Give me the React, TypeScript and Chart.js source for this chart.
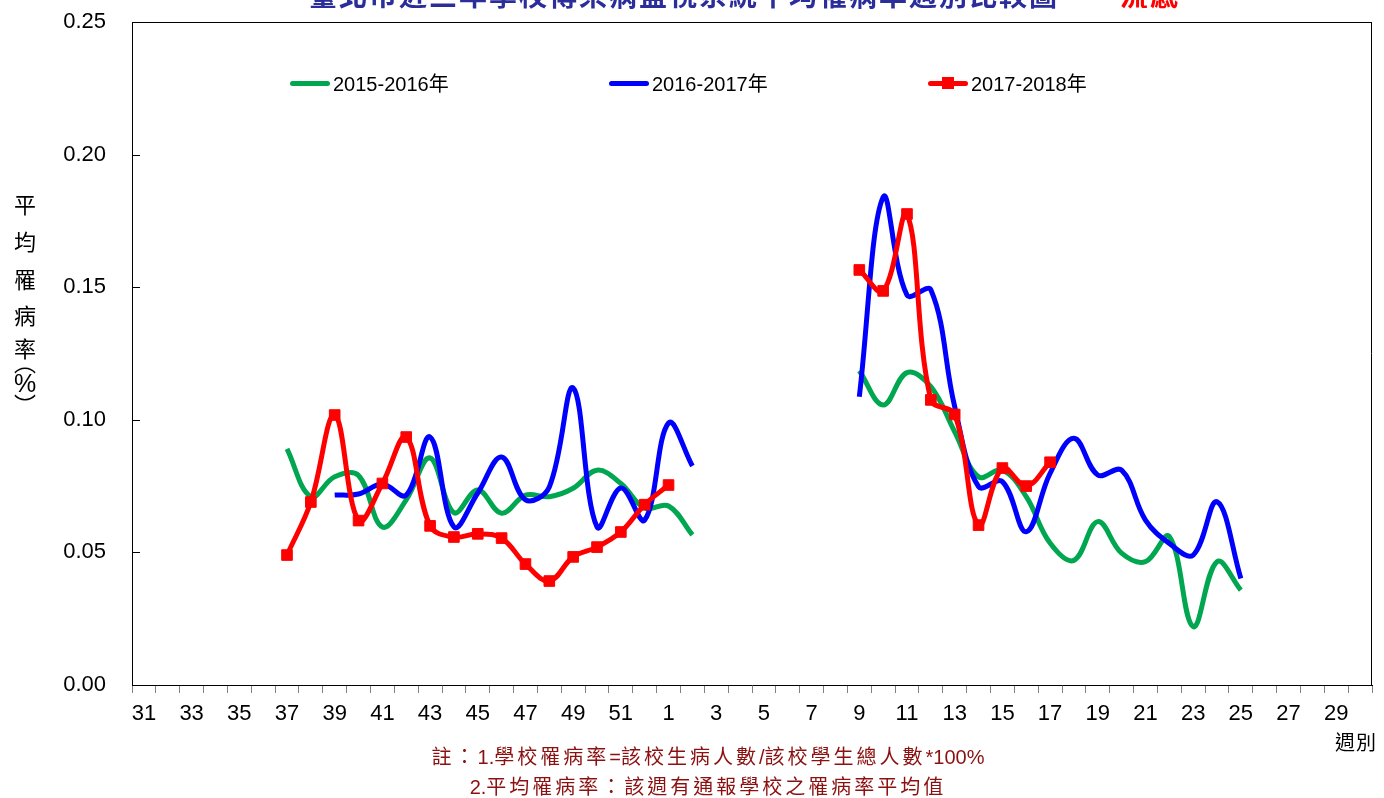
import React, { useEffect, useRef } from 'react';
import { Chart, registerables } from 'chart.js';
Chart.register(...registerables);

const weekLabels = [
  '31','32','33','34','35','36','37','38','39','40','41','42','43','44','45','46','47','48','49','50','51','52',
  '1','2','3','4','5','6','7','8','9','10','11','12','13','14','15','16','17','18','19','20','21','22','23','24','25','26','27','28','29','30',
];

const yTicks = [0, 0.05, 0.1, 0.15, 0.2, 0.25];

const s2015 = [
  null, null, null, null, null, null,
  0.089, 0.071, 0.0785, 0.079, 0.0596, 0.0698, 0.0856, 0.065, 0.0735, 0.0648, 0.0716, 0.071, 0.0742, 0.081, 0.076, 0.0667, 0.0675, 0.0566,
  null, null, null, null, null, null,
  0.1185, 0.1056, 0.1178, 0.1125, 0.0955, 0.0785, 0.081, 0.071, 0.0535, 0.047, 0.0616, 0.0497, 0.0465, 0.056, 0.022, 0.0465, 0.0358,
  null, null, null, null, null,
];

const s2016 = [
  null, null, null, null, null, null, null, null,
  0.0716, 0.072, 0.0758, 0.0716, 0.0935, 0.0596, 0.0724, 0.086, 0.0698, 0.0747, 0.112, 0.0596, 0.0743, 0.0622, 0.0988, 0.0826,
  null, null, null, null, null, null,
  0.1087, 0.184, 0.147, 0.149, 0.105, 0.0748, 0.0767, 0.0578, 0.0798, 0.093, 0.0792, 0.081, 0.0622, 0.0534, 0.049, 0.0691, 0.0402,
  null, null, null, null, null,
];

const s2017 = [
  null, null, null, null, null, null,
  0.049, 0.069, 0.1018, 0.062, 0.076, 0.0935, 0.06, 0.0558, 0.057, 0.0554, 0.0456, 0.0392, 0.0483, 0.052, 0.0577, 0.068, 0.0754,
  null, null, null, null, null, null, null,
  0.1565, 0.1486, 0.1776, 0.1075, 0.102, 0.0603, 0.0818, 0.075, 0.084,
  null, null, null, null, null, null, null, null, null, null, null, null, null,
];

const seriesNames = ['2015-2016年', '2016-2017年', '2017-2018年'];
const GREEN = '#00A650';
const BLUE = '#0000FF';
const RED = '#FF0000';

const NUM_FONT = '"Liberation Sans", Arial, sans-serif';
const CJK_FONT = '"Noto Sans CJK TC", "Noto Sans CJK SC", sans-serif';
const MIX_FONT = '"Liberation Sans", "Noto Sans CJK TC", sans-serif';

const framePlugin = {
  id: 'frame',
  beforeDraw(chart: any) {
    const ctx = chart.ctx;
    ctx.save();
    ctx.fillStyle = '#fff';
    ctx.fillRect(0, 0, chart.width, chart.height);
    ctx.restore();
  },
  afterDraw(chart: any) {
    const { ctx, chartArea } = chart;
    const y = chart.scales.y;
    ctx.save();
    ctx.strokeStyle = '#000';
    ctx.lineWidth = 1;
    ctx.beginPath();
    ctx.moveTo(chartArea.left, chartArea.top + 0.5);
    ctx.lineTo(chartArea.right, chartArea.top + 0.5);
    ctx.moveTo(chartArea.right - 0.5, chartArea.top);
    ctx.lineTo(chartArea.right - 0.5, chartArea.bottom);
    yTicks.forEach((v) => {
      const py = Math.round(y.getPixelForValue(v)) + 0.5;
      ctx.moveTo(chartArea.left, py);
      ctx.lineTo(chartArea.left + 8, py);
    });
    ctx.stroke();
    ctx.restore();
  },
};

export default function App() {
  const ref = useRef<HTMLCanvasElement | null>(null);

  useEffect(() => {
    if (!ref.current) return;
    const chart = new Chart(ref.current, {
      type: 'line',
      data: {
        labels: weekLabels,
        datasets: [
          {
            label: seriesNames[0],
            data: s2015,
            borderColor: GREEN,
            backgroundColor: GREEN,
            borderWidth: 5,
            pointRadius: 0,
            tension: 0.38,
            spanGaps: false,
            order: 3,
          },
          {
            label: seriesNames[1],
            data: s2016,
            borderColor: BLUE,
            backgroundColor: BLUE,
            borderWidth: 5,
            pointRadius: 0,
            tension: 0.38,
            spanGaps: false,
            order: 2,
          },
          {
            label: seriesNames[2],
            data: s2017,
            borderColor: RED,
            backgroundColor: RED,
            borderWidth: 5,
            pointStyle: 'rect',
            pointRadius: 7.5,
            pointBorderWidth: 1,
            pointBorderColor: RED,
            pointBackgroundColor: RED,
            tension: 0.38,
            spanGaps: false,
            order: 1,
          },
        ],
      },
      options: {
        responsive: false,
        animation: false,
        devicePixelRatio: 1,
        layout: { padding: { top: 22, right: 12, left: 0, bottom: 0 } },
        plugins: {
          legend: { display: false },
          tooltip: { enabled: false },
          title: { display: false },
        },
        scales: {
          x: {
            type: 'category',
            offset: true,
            afterFit: (s: any) => { s.height = 113; s.paddingLeft = 0; s.paddingRight = 0; },
            grid: {
              display: true,
              drawOnChartArea: false,
              drawTicks: true,
              tickLength: 8,
              offset: true,
              color: '#808080',
            },
            border: { display: true, color: '#000', width: 1 },
            ticks: {
              autoSkip: false,
              maxRotation: 0,
              minRotation: 0,
              padding: 8,
              color: '#000',
              font: { family: NUM_FONT, size: 22 },
              callback: (_v: any, i: number) => (i % 2 === 0 ? weekLabels[i] : ''),
            },
          },
          y: {
            min: 0,
            max: 0.25,
            afterFit: (s: any) => { s.width = 132; s.paddingTop = 0; s.paddingBottom = 0; },
            afterBuildTicks: (s: any) => { s.ticks = yTicks.map((v) => ({ value: v })); },
            grid: { display: false, drawTicks: false },
            border: { display: true, color: '#000', width: 1 },
            ticks: {
              padding: 26,
              color: '#000',
              font: { family: NUM_FONT, size: 22 },
              callback: (v: any) => Number(v).toFixed(2),
            },
          },
        },
      },
      plugins: [framePlugin],
    });
    return () => chart.destroy();
  }, []);

  const yTitle = ['平', '均', '罹', '病', '率'];
  const yTitleTops = [191, 228, 266, 302, 335];

  const legendItems = [
    { x: 290, color: GREEN, marker: false, text: seriesNames[0] },
    { x: 609, color: BLUE, marker: false, text: seriesNames[1] },
    { x: 928, color: RED, marker: true, text: seriesNames[2] },
  ];

  const noteStyle: React.CSSProperties = {
    position: 'absolute', left: 308, width: 800, textAlign: 'center', fontFamily: MIX_FONT,
    fontSize: 20, lineHeight: '26px', color: '#8B1010', whiteSpace: 'nowrap',
  };
  const cjkSpaced: React.CSSProperties = { letterSpacing: 3 };

  return (
    <div style={{ position: 'absolute', left: 0, top: 0, width: 1384, height: 798, overflow: 'hidden', background: '#fff' }}>
      <canvas ref={ref} width={1384} height={798} style={{ position: 'absolute', left: 0, top: 0, width: 1384, height: 798 }} />
      {/* clipped title */}
      <div style={{ position: 'absolute', left: 309, top: -21, fontFamily: CJK_FONT, fontSize: 28, lineHeight: '30px', fontWeight: 700, color: '#2B2E9A', letterSpacing: 2, whiteSpace: 'nowrap' }}>
        臺北市近三年學校傳染病監視系統平均罹病率週別比較圖－
      </div>
      <div style={{ position: 'absolute', left: 1120, top: -21, fontFamily: CJK_FONT, fontSize: 28, lineHeight: '30px', fontWeight: 700, color: RED, letterSpacing: 2, whiteSpace: 'nowrap' }}>
        流感
      </div>
      {/* legend */}
      {legendItems.map((it) => (
        <React.Fragment key={it.text}>
          <div style={{ position: 'absolute', left: it.x, top: 81, width: 40, height: 5, borderRadius: 3, background: it.color }} />
          {it.marker && (
            <div style={{ position: 'absolute', left: it.x + 14, top: 77, width: 12, height: 12, background: it.color }} />
          )}
          <div style={{ position: 'absolute', left: it.x + 43, top: 72, height: 24, lineHeight: '24px', fontFamily: MIX_FONT, fontSize: 20, color: '#000', whiteSpace: 'nowrap' }}>
            {it.text}
          </div>
        </React.Fragment>
      ))}
      {/* y axis title */}
      {yTitle.map((c, i) => (
        <div key={c + i} style={{ position: 'absolute', left: 13, top: yTitleTops[i], width: 24, textAlign: 'center', fontFamily: CJK_FONT, fontSize: 22, lineHeight: '24px', color: '#000' }}>
          {c}
        </div>
      ))}
      <div style={{ position: 'absolute', left: 13, top: 350, width: 24, textAlign: 'center', fontFamily: CJK_FONT, fontSize: 22, lineHeight: '22px', color: '#000' }}>︵</div>
      <div style={{ position: 'absolute', left: 12, top: 371, width: 26, textAlign: 'center', fontFamily: NUM_FONT, fontSize: 25, lineHeight: '24px', color: '#000' }}>%</div>
      <div style={{ position: 'absolute', left: 13, top: 392, width: 24, textAlign: 'center', fontFamily: CJK_FONT, fontSize: 22, lineHeight: '22px', color: '#000' }}>︶</div>
      {/* x axis title */}
      <div style={{ position: 'absolute', left: 1335, top: 730, fontFamily: CJK_FONT, fontSize: 20, lineHeight: '24px', color: '#000', letterSpacing: 1, whiteSpace: 'nowrap' }}>週別</div>
      {/* notes */}
      <div style={{ ...noteStyle, top: 744 }}>
        <span style={cjkSpaced}>註：</span>1.<span style={cjkSpaced}>學校罹病率</span>=<span style={cjkSpaced}>該校生病人數</span>/<span style={cjkSpaced}>該校學生總人數</span>*100%
      </div>
      <div style={{ ...noteStyle, top: 774 }}>
        2.<span style={cjkSpaced}>平均罹病率：該週有通報學校之罹病率平均值</span>
      </div>
    </div>
  );
}
